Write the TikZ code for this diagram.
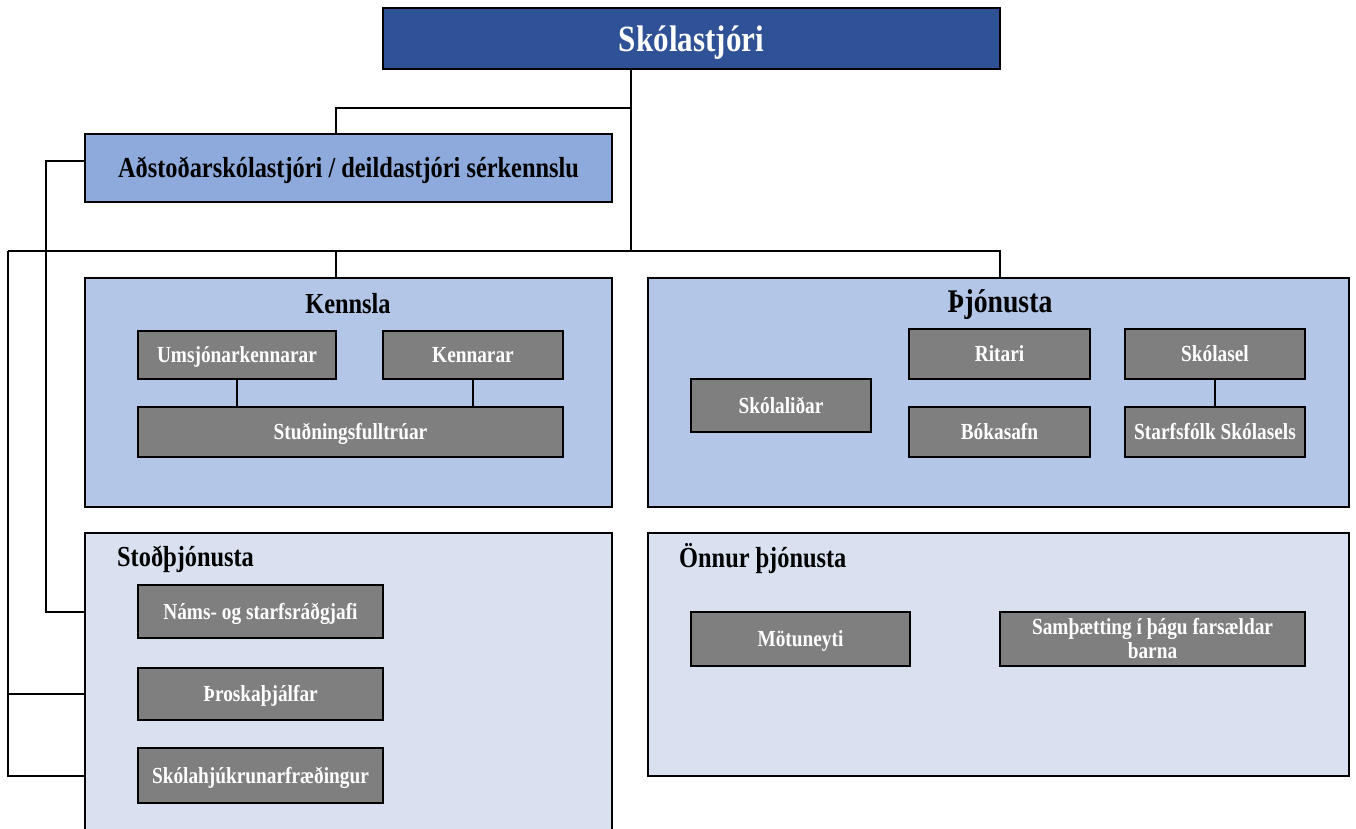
\documentclass[tikz,border=0pt]{standalone}
\usepackage{fontspec}
\setmainfont{Liberation Serif}[FakeStretch=0.84]
\definecolor{topblue}{HTML}{2F5196}
\definecolor{midblue}{HTML}{8EA9DB}
\definecolor{kblue}{HTML}{B4C6E7}
\definecolor{lblue}{HTML}{D9E1F1}
\definecolor{gbox}{HTML}{7F7F7F}
\tikzset{
  base/.style={draw=black, line width=1.8pt, inner sep=0pt, outer sep=0pt, align=center},
  topbox/.style={base, fill=topblue, text=white, text height=30pt, text depth=3pt, font=\bfseries\fontsize{37}{40}\selectfont},
  asstbox/.style={base, fill=midblue, text=black, text height=24pt, text depth=5pt, font=\bfseries\fontsize{29}{32}\selectfont},
  groupA/.style={base, fill=kblue},
  groupB/.style={base, fill=lblue},
  unitbase/.style={base, fill=gbox, text=white, font=\bfseries\fontsize{23}{24}\selectfont},
  unit/.style={unitbase, text height=19pt, text depth=4pt},
  gtitle/.style={inner sep=0pt, font=\bfseries\fontsize{29}{32}\selectfont},
  conn/.style={line width=1.8pt, line join=miter}
}
\begin{document}
\begin{tikzpicture}[x=1pt,y=-1pt]
\useasboundingbox (0,0) rectangle (1356,829);
\clip (0,0) rectangle (1356,829);
% group boxes
\node[groupA, minimum width=527, minimum height=229] (kennsla) at (348.5,392.5) {};
\node[groupA, minimum width=701, minimum height=229] (thj) at (998.5,392.5) {};
\node[groupB, minimum width=527, minimum height=310] (stod) at (348.5,688) {};
\node[groupB, minimum width=701, minimum height=243] (onnur) at (998.5,654.5) {};
% top boxes
\node[topbox, minimum width=617, minimum height=61] (top) at (691.5,38.5) {Skólastjóri};
\node[asstbox, minimum width=527, minimum height=68] (asst) at (348.5,168) {Aðstoðarskólastjóri / deildastjóri sérkennslu};
% titles
\node[gtitle] (tK) at (348,304) {Kennsla};
\node[gtitle, font=\bfseries\fontsize{33}{36}\selectfont] (tT) at (1000,305) {Þjónusta};
\node[gtitle, anchor=west] (tS) at (117,559) {Stoðþjónusta};
\node[gtitle, anchor=west] (tO) at (679,559) {Önnur þjónusta};
% Kennsla units
\node[unit, minimum width=198, minimum height=48] (ums) at (237,355) {Umsjónarkennarar};
\node[unit, minimum width=180, minimum height=48] (ken) at (473,355) {Kennarar};
\node[unit, minimum width=425, minimum height=50] (stud) at (350.5,432) {Stuðningsfulltrúar};
% Þjónusta units
\node[unit, minimum width=180, minimum height=53] (skl) at (781,405.5) {Skólaliðar};
\node[unit, minimum width=181, minimum height=50] (rit) at (999.5,354) {Ritari};
\node[unit, minimum width=181, minimum height=50] (bok) at (999.5,432) {Bókasafn};
\node[unit, minimum width=180, minimum height=50] (sks) at (1215,354) {Skólasel};
\node[unit, minimum width=180, minimum height=50] (sfs) at (1215,432) {Starfsfólk Skólasels};
% Stoðþjónusta units
\node[unit, minimum width=245, minimum height=53] (nams) at (260.5,611.5) {Náms- og starfsráðgjafi};
\node[unit, minimum width=245, minimum height=52] (thro) at (260.5,694) {Þroskaþjálfar};
\node[unit, minimum width=245, minimum height=55] (skhj) at (260.5,775.5) {Skólahjúkrunarfræðingur};
% Önnur þjónusta units
\node[unit, minimum width=219, minimum height=54] (mot) at (800.5,639) {Mötuneyti};
\node[unitbase, minimum width=305, minimum height=54] (samb) at (1152.5,639) {Samþætting í þágu farsældar\\barna};
% junction coordinates
\coordinate (j1) at (631,108);
\coordinate (j2) at (631,251);
\coordinate (a1) at (336,108);
\coordinate (busL) at (8,251);
\coordinate (busR) at (1000,251);
\coordinate (bK) at (336,251);
\coordinate (lv) at (46,161);
\coordinate (lv2) at (46,612);
\coordinate (bL2) at (8,694);
\coordinate (bL3) at (8,776);
% connectors
\draw[conn] (top.south -| j1) -- (j2);
\draw[conn] (j1) -- (a1) -- (a1 |- asst.north);
\draw[conn] (busL) -- (busR) -- (busR |- thj.north);
\draw[conn] (bK) -- (bK |- kennsla.north);
\draw[conn] (asst.west |- lv) -- (lv) -- (lv2) -- (stod.west |- lv2);
\draw[conn] (busL) -- (bL3) -- (stod.west |- bL3);
\draw[conn] (bL2) -- (stod.west |- bL2);
\draw[conn] (ums.south) -- (ums.south |- stud.north);
\draw[conn] (ken.south) -- (ken.south |- stud.north);
\draw[conn] (sks.south) -- (sfs.north);
\end{tikzpicture}
\end{document}
